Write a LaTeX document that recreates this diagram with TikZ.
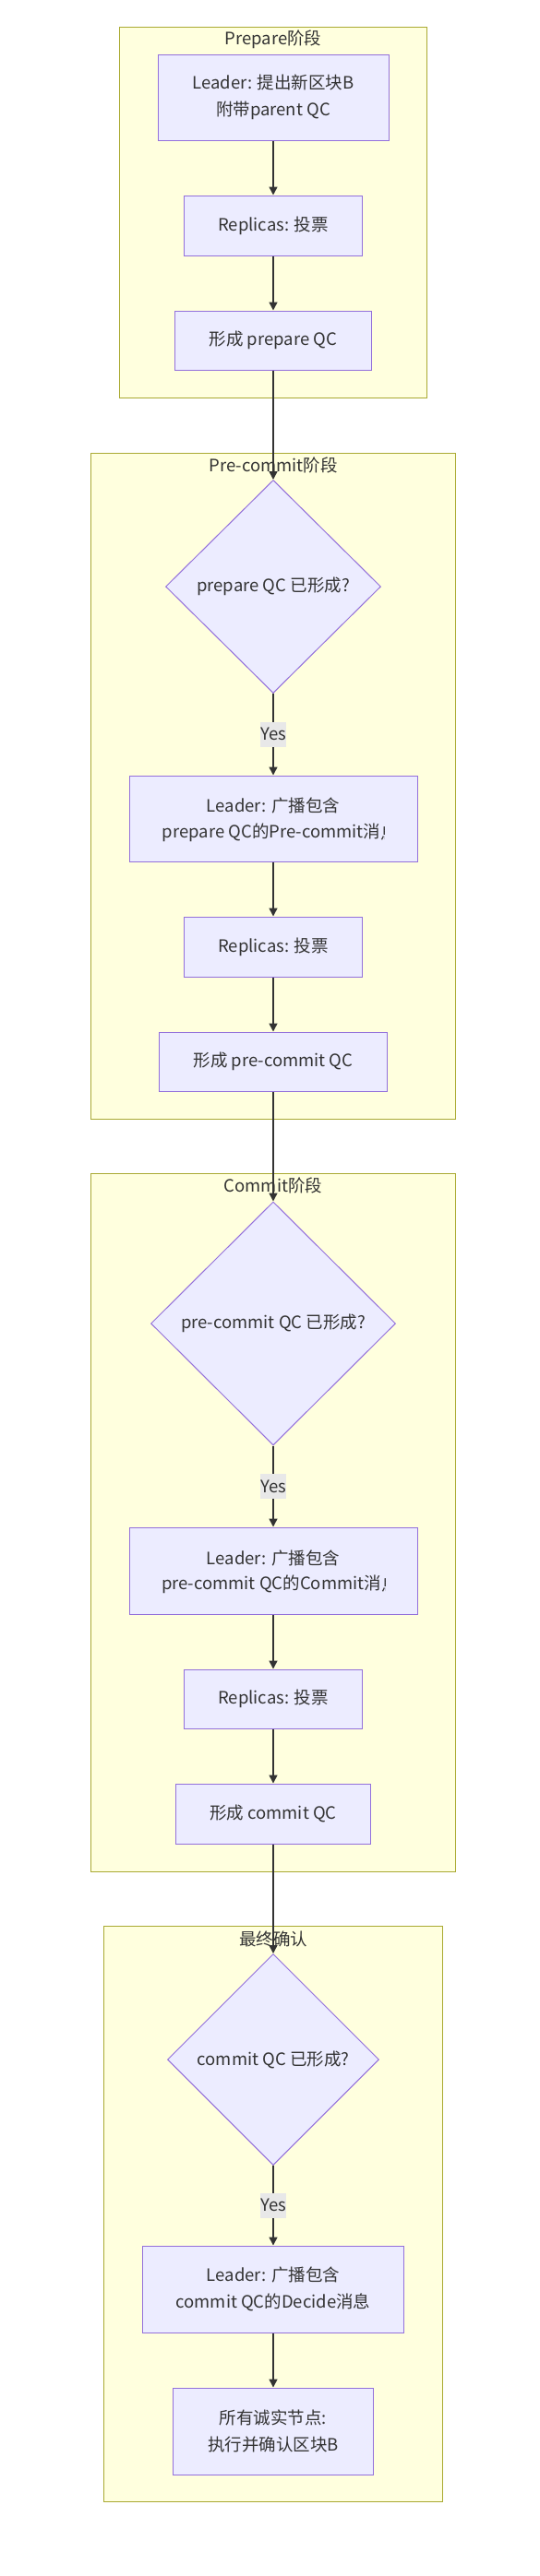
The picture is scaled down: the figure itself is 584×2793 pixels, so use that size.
\documentclass[tikz,border=0pt]{standalone}
\usepackage{fontspec}
\setmainfont{Noto Sans CJK SC}
\usetikzlibrary{shapes.geometric,arrows.meta}
\definecolor{nodefill}{HTML}{ECECFF}
\definecolor{nodestroke}{HTML}{9370DB}
\definecolor{clfill}{HTML}{FFFFDE}
\definecolor{clstroke}{HTML}{AAAA33}
\definecolor{edgec}{HTML}{333333}
\definecolor{txt}{HTML}{333333}
\definecolor{lblbg}{HTML}{E8E8E8}
\newcommand{\lbfont}{\fontsize{18.5}{29}\selectfont}
\begin{document}
\begin{tikzpicture}[x=1pt,y=-1pt,
  cluster/.style={draw=clstroke, fill=clfill, line width=1pt, inner sep=0},
  ctitle/.style={text=txt, font=\lbfont, inner sep=0},
  box/.style={draw=nodestroke, fill=nodefill, line width=1pt, text=txt, font=\lbfont, align=center, inner sep=0},
  lbl/.style={text=txt, font=\lbfont, inner sep=0},
  dia/.style={diamond, aspect=1, draw=nodestroke, fill=nodefill, line width=1pt, text=txt, font=\lbfont, inner sep=0},
  edge/.style={draw=edgec, line width=1.5pt, -{Triangle[length=9pt,width=9pt]}},
  yes/.style={fill=lblbg, text=txt, font=\lbfont, inner sep=0, minimum width=28, minimum height=27}]
\useasboundingbox (0,0) rectangle (584,2793);
% clusters
\node[cluster, minimum width=333, minimum height=402] (c1) at (295.5,230) {};
\node[ctitle] (t1) at (296,43) {Prepare阶段};
\node[cluster, minimum width=395, minimum height=722] (c2) at (295.5,852) {};
\node[ctitle] (t2) at (296,504) {Pre-commit阶段};
\node[cluster, minimum width=395, minimum height=757] (c3) at (295.5,1650.5) {};
\node[ctitle] (t3) at (296,1285) {Commit阶段};
\node[cluster, minimum width=367, minimum height=624] (c4) at (295.5,2400) {};
\node[ctitle] (t4) at (296,2102) {最终确认};
% Prepare
\node[box, minimum width=250, minimum height=93] (a) at (296,105.5) {Leader: 提出新区块B\\附带parent QC};
\node[box, minimum width=193, minimum height=65] (b) at (296,244.5) {Replicas: 投票};
\node[box, minimum width=213, minimum height=64] (c) at (296,369) {形成 prepare QC};
% Pre-commit
\node[dia, minimum width=233, minimum height=231] (d1) at (296,636) {prepare QC 已形成?};
\node[box, minimum width=312, minimum height=93] (e1) at (296,887.5) {};
\node[lbl] (e1a) at (296,874) {Leader: 广播包含};
\node[lbl] (e1b) at (294,903) {prepare QC的Pre-commit消};
\begin{scope}
  \clip (e1b.north east) rectangle ([xshift=4pt]e1b.south east);
  \node[lbl, anchor=west] (e1c) at (e1b.east) {息};
\end{scope}
\node[box, minimum width=193, minimum height=65] (f1) at (296,1026.5) {Replicas: 投票};
\node[box, minimum width=247, minimum height=64] (g1) at (296,1151) {形成 pre-commit QC};
% Commit
\node[dia, minimum width=265, minimum height=264] (d2) at (296,1435) {pre-commit QC 已形成?};
\node[box, minimum width=312, minimum height=94] (e2) at (296,1703) {};
\node[lbl] (e2a) at (296,1689) {Leader: 广播包含};
\node[lbl] (e2b) at (294,1718) {pre-commit QC的Commit消};
\begin{scope}
  \clip (e2b.north east) rectangle ([xshift=4pt]e2b.south east);
  \node[lbl, anchor=west] (e2c) at (e2b.east) {息};
\end{scope}
\node[box, minimum width=193, minimum height=64] (f2) at (296,1842) {Replicas: 投票};
\node[box, minimum width=211, minimum height=65] (g2) at (296,1966.5) {形成 commit QC};
% Final
\node[dia, minimum width=229, minimum height=229] (d3) at (296,2233) {commit QC 已形成?};
\node[box, minimum width=283, minimum height=94] (e3) at (296,2482) {Leader: 广播包含\\commit QC的Decide消息};
\node[box, minimum width=217, minimum height=94] (f3) at (296,2636) {所有诚实节点:\\执行并确认区块B};
% edges
\draw[edge] (a) -- (b);
\draw[edge] (b) -- (c);
\draw[edge] (c) -- (d1);
\draw[edge] (d1) -- node[yes] (y1) {Yes} (e1);
\draw[edge] (e1) -- (f1);
\draw[edge] (f1) -- (g1);
\draw[edge] (g1) -- (d2);
\draw[edge] (d2) -- node[yes] (y2) {Yes} (e2);
\draw[edge] (e2) -- (f2);
\draw[edge] (f2) -- (g2);
\draw[edge] (g2) -- (d3);
\draw[edge] (d3) -- node[yes] (y3) {Yes} (e3);
\draw[edge] (e3) -- (f3);
\end{tikzpicture}
\end{document}
